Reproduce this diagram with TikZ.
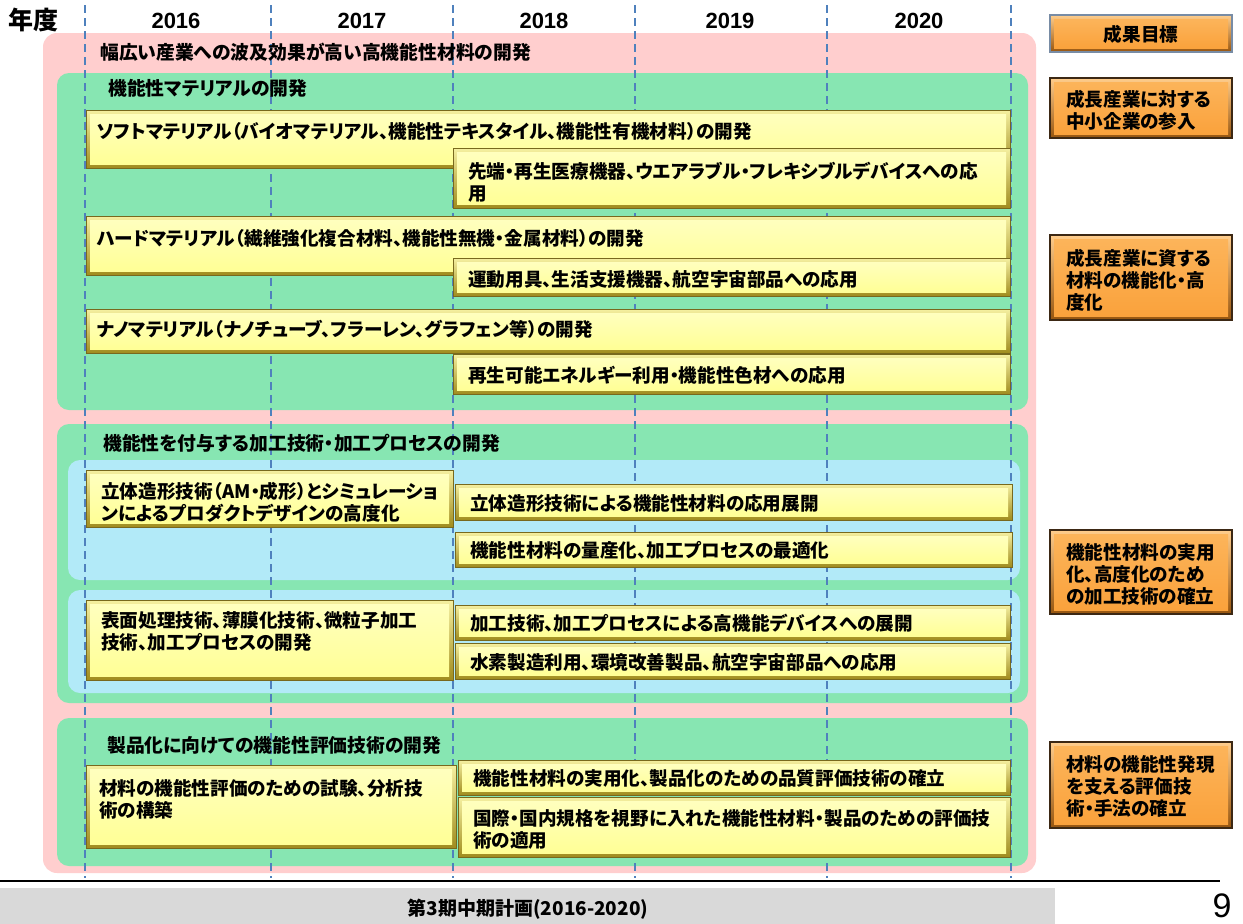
\documentclass[tikz,border=0pt]{standalone}
\usepackage{fontspec}
\setmainfont{Noto Sans CJK JP}[RawFeature=+palt]
\newfontfamily\arialfont{Liberation Sans}
\usetikzlibrary{calc}
\definecolor{pinkbg}{RGB}{255,206,206}
\definecolor{greenbg}{RGB}{135,230,178}
\definecolor{bluebg}{RGB}{178,234,248}
\definecolor{yfill}{RGB}{255,255,150}
\definecolor{yfilltop}{RGB}{255,255,190}
\definecolor{yedgetop}{RGB}{245,240,160}
\definecolor{yedgebot}{RGB}{160,140,30}
\definecolor{yline}{RGB}{120,105,30}
\definecolor{ofill}{RGB}{250,162,60}
\definecolor{ofilltop}{RGB}{252,180,90}
\definecolor{oedgetop}{RGB}{255,205,140}
\definecolor{oedgebot}{RGB}{150,85,15}
\definecolor{oline}{RGB}{60,40,20}
\definecolor{dashblue}{RGB}{79,129,189}
\definecolor{footgray}{RGB}{217,217,217}
\newcommand\mkbox[6]{\node[#1, minimum width={(#5)-(#3)}, minimum height={(#6)-(#4)}] (#2) at ({((#3)+(#5))/2},{((#4)+(#6))/2}) {};}
\tikzset{
  pinkbox/.style={rectangle, inner sep=0pt, fill=pinkbg, rounded corners=14pt},
  greenbox/.style={rectangle, inner sep=0pt, fill=greenbg, rounded corners=12pt},
  bluebox/.style={rectangle, inner sep=0pt, fill=bluebg, rounded corners=12pt},
  ybox/.style={rectangle, inner sep=0pt, draw=yline, line width=0.7pt,
    path picture={
      \shade[top color=yedgetop, bottom color=yedgebot] (path picture bounding box.south west) rectangle (path picture bounding box.north east);
      \shade[top color=yfilltop, bottom color=yfill] ($(path picture bounding box.north west)+(4,4)$) rectangle ($(path picture bounding box.south east)+(-4,-4)$);
    }},
  obox/.style={rectangle, inner sep=0pt, draw=oline, line width=1.2pt,
    path picture={
      \shade[top color=oedgetop, bottom color=oedgebot] (path picture bounding box.south west) rectangle (path picture bounding box.north east);
      \shade[top color=ofilltop, bottom color=ofill] ($(path picture bounding box.north west)+(4,4)$) rectangle ($(path picture bounding box.south east)+(-4,-4)$);
    }},
  txt/.style={font=\bfseries\fontsize{18.6}{22}\selectfont, inner sep=0pt, align=left, anchor=west, text=black},
  ttxt/.style={txt, font=\bfseries\fontsize{18.8}{22}\selectfont},
  yeartxt/.style={font=\arialfont\bfseries\fontsize{22}{26}\selectfont, inner sep=0pt},
  dashline/.style={draw=dashblue, line width=1.3pt, dash pattern=on 8pt off 5pt},
}
\begin{document}
\begin{tikzpicture}[x=1pt,y=-1pt]
\useasboundingbox (0,0) rectangle (1243,924);
\fill[white] (0,0) rectangle (1243,924);

% backgrounds
\mkbox{pinkbox}{pink}{43}{33}{1036}{873}
\mkbox{greenbox}{g1}{57}{73}{1028}{410}
\mkbox{greenbox}{g2}{57}{424}{1028}{703}
\mkbox{greenbox}{g3}{57}{718}{1028}{866}
\mkbox{bluebox}{b1}{68}{460}{1020}{580}
\mkbox{bluebox}{b2}{68}{590}{1020}{693}

% dashed year lines
\foreach \i/\x in {1/85,2/271,3/453,4/635,5/827,6/1011}{
  \coordinate (dt\i) at (\x,5);
  \coordinate (db\i) at (\x,878);
  \draw[dashline] (dt\i) -- (db\i);
}

% header
\node[font=\bfseries\fontsize{25}{28}\selectfont, inner sep=0pt] (nendo) at (34,20) {年度};
\node[yeartxt] (y16) at (176,21) {2016};
\node[yeartxt] (y17) at (362,21) {2017};
\node[yeartxt] (y18) at (544,21) {2018};
\node[yeartxt] (y19) at (730,21) {2019};
\node[yeartxt] (y20) at (919,21) {2020};

% section titles
\node[ttxt] (ttop) at (100,52) {幅広い産業への波及効果が高い高機能性材料の開発};
\node[ttxt] (tg1) at (108,88) {機能性マテリアルの開発};
\node[ttxt] (tg2) at (103,443) {機能性を付与する加工技術・加工プロセスの開発};
\node[ttxt] (tg3) at (107,745) {製品化に向けての機能性評価技術の開発};

% section 1 boxes
\mkbox{ybox}{s1}{86}{110}{1010}{168}
\node[txt] (s1t) at (97,131) {ソフトマテリアル（バイオマテリアル、機能性テキスタイル、機能性有機材料）の開発};
\mkbox{ybox}{s2}{453}{148}{1010}{208}
\node[txt] (s2t) at (468,182) {先端・再生医療機器、ウエアラブル・フレキシブルデバイスへの応\\用};
\mkbox{ybox}{s3}{86}{216}{1010}{275}
\node[txt] (s3t) at (97,238) {ハードマテリアル（繊維強化複合材料、機能性無機・金属材料）の開発};
\mkbox{ybox}{s4}{453}{258}{1010}{296}
\node[txt] (s4t) at (468,279) {運動用具、生活支援機器、航空宇宙部品への応用};
\mkbox{ybox}{s5}{86}{309}{1010}{353}
\node[txt] (s5t) at (97,329) {ナノマテリアル（ナノチューブ、フラーレン、グラフェン等）の開発};
\mkbox{ybox}{s6}{453}{354}{1010}{394}
\node[txt] (s6t) at (468,375) {再生可能エネルギー利用・機能性色材への応用};

% section 2 boxes
\mkbox{ybox}{p1}{86}{470}{453}{527}
\node[txt] (p1t) at (101,502) {立体造形技術（AM・成形）とシミュレーショ\\ンによるプロダクトデザインの高度化};
\mkbox{ybox}{p2}{455}{484}{1012}{520}
\node[txt] (p2t) at (470,503) {立体造形技術による機能性材料の応用展開};
\mkbox{ybox}{p3}{455}{532}{1012}{567}
\node[txt] (p3t) at (470,550) {機能性材料の量産化、加工プロセスの最適化};
\mkbox{ybox}{p4}{86}{600}{453}{680}
\node[txt] (p4t) at (101,631) {表面処理技術、薄膜化技術、微粒子加工\\技術、加工プロセスの開発};
\mkbox{ybox}{p5}{455}{605}{1010}{640}
\node[txt] (p5t) at (470,623) {加工技術、加工プロセスによる高機能デバイスへの展開};
\mkbox{ybox}{p6}{455}{643}{1010}{679}
\node[txt] (p6t) at (470,662) {水素製造利用、環境改善製品、航空宇宙部品への応用};

% section 3 boxes
\mkbox{ybox}{e1}{86}{765}{456}{848}
\node[txt] (e1t) at (99,799) {材料の機能性評価のための試験、分析技\\術の構築};
\mkbox{ybox}{e2}{458}{760}{1010}{795}
\node[txt] (e2t) at (473,778) {機能性材料の実用化、製品化のための品質評価技術の確立};
\mkbox{ybox}{e3}{458}{797}{1010}{857}
\node[txt] (e3t) at (473,829) {国際・国内規格を視野に入れた機能性材料・製品のための評価技\\術の適用};

% goal boxes
\mkbox{obox,draw={rgb,255:red,120;green,140;blue,165}}{o0}{1050}{15}{1232}{52}
\node[txt, anchor=center] (o0t) at (1141,34) {成果目標};
\mkbox{obox}{o1}{1050}{78}{1232}{138}
\node[txt] (o1t) at (1066,110) {成長産業に対する\\中小企業の参入};
\mkbox{obox}{o2}{1050}{235}{1232}{320}
\node[txt] (o2t) at (1066,280) {成長産業に資する\\材料の機能化・高\\度化};
\mkbox{obox}{o3}{1050}{530}{1232}{614}
\node[txt] (o3t) at (1066,574) {機能性材料の実用\\化、高度化のため\\の加工技術の確立};
\mkbox{obox}{o4}{1050}{742}{1232}{828}
\node[txt] (o4t) at (1066,786) {材料の機能性発現\\を支える評価技\\術・手法の確立};

% footer
\coordinate (fl1) at (0,881);
\coordinate (fl2) at (1220,881);
\draw[black, line width=2.5pt] (fl1) -- (fl2);
\mkbox{rectangle,inner sep=0pt,fill=footgray}{foot}{0}{888}{1055}{926}
\node[font=\bfseries\fontsize{19}{22}\selectfont, inner sep=0pt] (foott) at (528,909) {第3期中期計画(2016-2020)};
\node[font=\arialfont\fontsize{34}{38}\selectfont, inner sep=0pt] (pg) at (1222,906) {9};
\end{tikzpicture}
\end{document}
